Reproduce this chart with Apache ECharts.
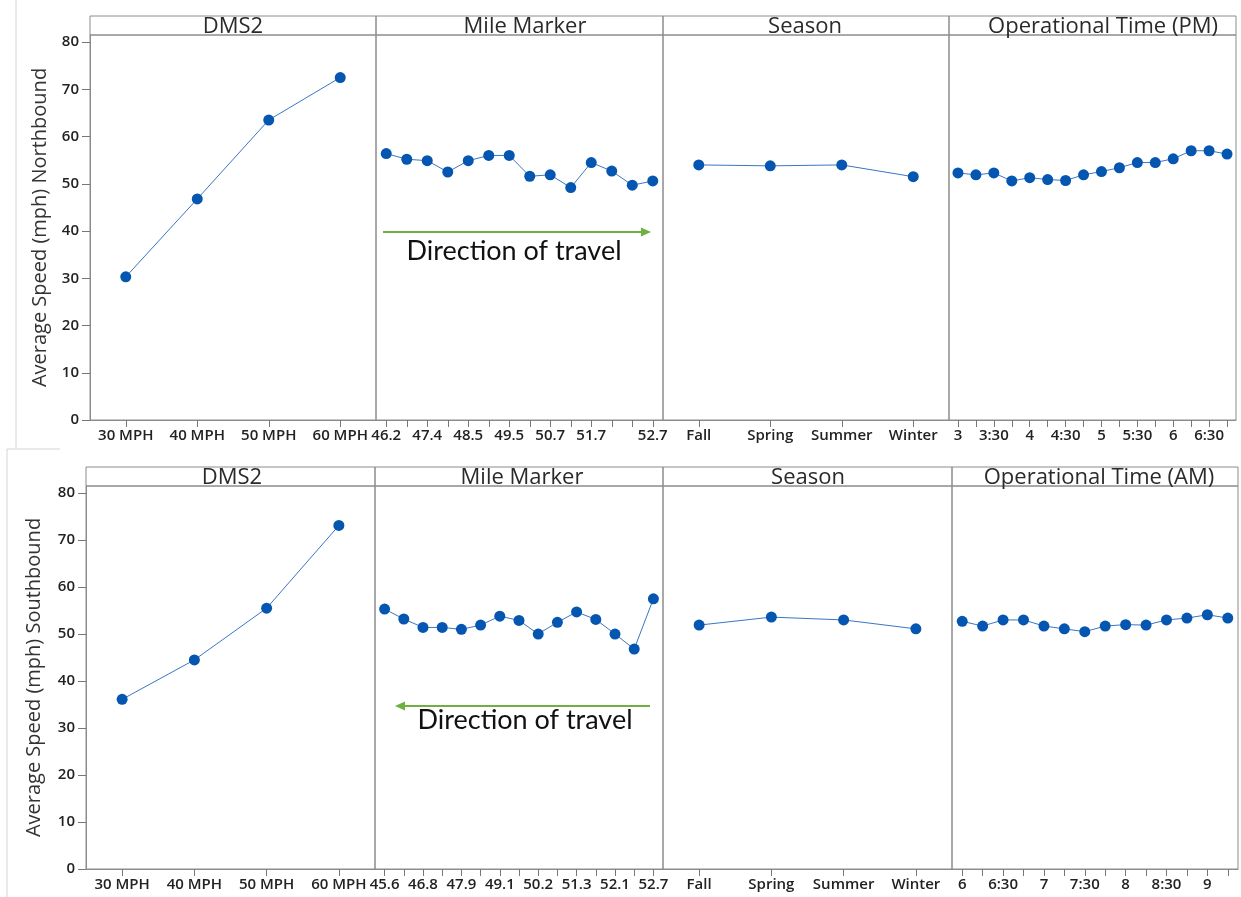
<!DOCTYPE html>
<html style="height: 100%">
<head>
    <meta charset="utf-8">
    <script type="text/javascript" src="https://cdn.jsdelivr.net/npm/echarts@6/dist/echarts.min.js"></script>
</head>
<body style="height: 100%; margin: 0; background: #fff">
<div id="container" style="width: 1241px; height: 897px"></div>
<script type="text/javascript">
    var yTicks = [0, 10, 20, 30, 40, 50, 60, 70, 80];

    var dmsCats = ["30 MPH", "40 MPH", "50 MPH", "60 MPH"];
    var seasonCats = ["Fall", "Spring", "Summer", "Winter"];
    var nbMileCats = ["46.2", "", "47.4", "", "48.5", "", "49.5", "", "50.7", "", "51.7", "", "", "52.7"];
    var sbMileCats = ["45.6", "", "46.8", "", "47.9", "", "49.1", "", "50.2", "", "51.3", "", "52.1", "", "52.7"];
    var pmTimeCats = ["3", "3:15", "3:30", "3:45", "4", "4:15", "4:30", "4:45",
        "5", "5:15", "5:30", "5:45", "6", "6:15", "6:30", "6:45"];
    var amTimeCats = ["6", "6:15", "6:30", "6:45", "7", "7:15", "7:30", "7:45",
        "8", "8:15", "8:30", "8:45", "9", "9:15"];

    // northbound (top row)
    var nbDms = [30.3, 46.8, 63.5, 72.5];
    var nbMile = [56.4, 55.2, 54.9, 52.5, 54.9, 56.0, 56.0, 51.6, 51.9, 49.2, 54.5, 52.7, 49.7, 50.6];
    var nbSeason = [54.0, 53.8, 54.0, 51.5];
    var nbTime = [52.3, 51.9, 52.3, 50.6, 51.3, 50.9, 50.7, 51.9, 52.6, 53.4, 54.5, 54.5, 55.3, 57.0, 57.0, 56.3];

    // southbound (bottom row)
    var sbDms = [36.1, 44.5, 55.5, 73.1];
    var sbMile = [55.3, 53.2, 51.4, 51.4, 51.0, 51.9, 53.8, 52.9, 50.0, 52.5, 54.7, 53.1, 50.0, 46.8, 57.5];
    var sbSeason = [51.9, 53.6, 53.0, 51.1];
    var sbTime = [52.7, 51.7, 53.0, 53.0, 51.7, 51.1, 50.5, 51.7, 52.0, 51.9, 53.0, 53.4, 54.1, 53.4];

    var frameColor = "#8c8c8c";
    var labelFont = "Open Sans";

    // layout of the 8 panels
    var panels = [
        {l: 90, r: 376, t: 35, b: 420, hx: 233, title: "DMS2", cats: dmsCats, vals: nbDms, li: 0},
        {l: 376, r: 663, t: 35, b: 420, hx: 525, title: "Mile Marker", cats: nbMileCats, vals: nbMile, li: 0},
        {l: 663, r: 949, t: 35, b: 420, hx: 805, title: "Season", cats: seasonCats, vals: nbSeason, li: 0},
        {l: 949, r: 1236, t: 35, b: 420, hx: 1103, title: "Operational Time (PM)", cats: pmTimeCats, vals: nbTime, li: 1},
        {l: 86, r: 375, t: 486, b: 869, hx: 232, title: "DMS2", cats: dmsCats, vals: sbDms, li: 0},
        {l: 375, r: 663, t: 486, b: 869, hx: 522, title: "Mile Marker", cats: sbMileCats, vals: sbMile, li: 0},
        {l: 663, r: 952, t: 486, b: 869, hx: 808, title: "Season", cats: seasonCats, vals: sbSeason, li: 0},
        {l: 952, r: 1238, t: 486, b: 869, hx: 1099, title: "Operational Time (AM)", cats: amTimeCats, vals: sbTime, li: 1}
    ];

    var grids = [], xAxes = [], yAxes = [], series = [], graphics = [];

    panels.forEach(function (p, i) {
        grids.push({
            left: p.l, top: p.t, width: p.r - p.l, height: p.b - p.t,
            show: true, borderColor: frameColor, borderWidth: 1, containLabel: false
        });
        xAxes.push({
            type: "category", gridIndex: i, data: p.cats, boundaryGap: true,
            axisLine: {show: true, lineStyle: {color: frameColor, width: 1}},
            axisTick: {show: true, alignWithLabel: true, interval: 0, length: 7, lineStyle: {color: "#777"}},
            axisLabel: {interval: p.li, fontSize: 15, fontWeight: 600, color: "#222", margin: 8, fontFamily: labelFont},
            splitLine: {show: false}
        });
        var first = (i % 4 === 0);
        yAxes.push({
            type: "value", gridIndex: i, min: 0, max: 81.5, interval: 10, show: first,
            name: first ? (i === 0 ? "Average Speed (mph) Northbound" : "Average Speed (mph) Southbound") : "",
            nameLocation: "middle", nameGap: i === 0 ? 40 : 42,
            nameTextStyle: {fontSize: 20, color: "#333", fontFamily: labelFont},
            axisLine: {show: true, lineStyle: {color: frameColor}},
            axisTick: {show: true, length: 8, lineStyle: {color: "#777"}, customValues: yTicks},
            axisLabel: {fontSize: 15, fontWeight: 600, color: "#222", margin: 11, fontFamily: labelFont, customValues: yTicks},
            splitLine: {show: false}
        });
        series.push({
            type: "line", xAxisIndex: i, yAxisIndex: i, data: p.vals,
            symbol: "circle", symbolSize: 11, silent: true,
            itemStyle: {color: "#0556b0"},
            lineStyle: {color: "#3a76c4", width: 1}
        });
        // header strip
        var hTop = p.t - 19;
        graphics.push({
            type: "rect", shape: {x: p.l, y: hTop, width: p.r - p.l, height: 19},
            style: {fill: "none", stroke: frameColor, lineWidth: 1}, silent: true
        });
        graphics.push({
            type: "text", x: p.hx, y: hTop + 11,
            style: {text: p.title, fontSize: 22, fill: "#2a2a2a", fontFamily: labelFont, align: "center", verticalAlign: "middle"},
            silent: true
        });
    });

    // direction of travel annotations
    var green = "#6fb043";
    graphics.push(
        {type: "line", shape: {x1: 383, y1: 232, x2: 643, y2: 232}, style: {stroke: green, lineWidth: 2}},
        {type: "polygon", shape: {points: [[651, 232], [641, 227.5], [641, 236.5]]}, style: {fill: green}},
        {type: "text", x: 514, y: 251, style: {text: "Direction of travel", fontSize: 27, fill: "#111", fontFamily: "Lato", align: "center", verticalAlign: "middle"}},
        {type: "line", shape: {x1: 650, y1: 706, x2: 403, y2: 706}, style: {stroke: green, lineWidth: 2}},
        {type: "polygon", shape: {points: [[395, 706], [405, 701.5], [405, 710.5]]}, style: {fill: green}},
        {type: "text", x: 525, y: 720, style: {text: "Direction of travel", fontSize: 27, fill: "#111", fontFamily: "Lato", align: "center", verticalAlign: "middle"}},
        // faint edges of the two pasted images
        {type: "line", shape: {x1: 16, y1: 0, x2: 16, y2: 448}, style: {stroke: "#d4d4d4", lineWidth: 1}},
        {type: "line", shape: {x1: 7, y1: 449, x2: 60, y2: 449}, style: {stroke: "#d4d4d4", lineWidth: 1}},
        {type: "line", shape: {x1: 7, y1: 449, x2: 7, y2: 897}, style: {stroke: "#d4d4d4", lineWidth: 1}}
    );

    var myChart = echarts.init(document.getElementById("container"));
    var option = {
        animation: false,
        backgroundColor: "#fff",
        grid: grids,
        xAxis: xAxes,
        yAxis: yAxes,
        series: series,
        graphic: graphics
    };
    myChart.setOption(option);
</script>
</body>
</html>
